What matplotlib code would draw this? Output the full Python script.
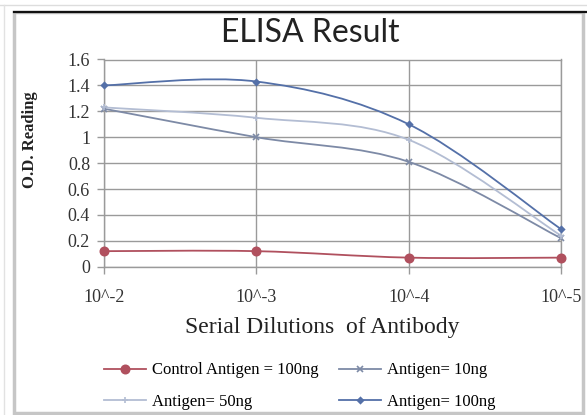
import matplotlib
matplotlib.use("Agg")
import matplotlib.pyplot as plt
from matplotlib.path import Path
from matplotlib.patches import PathPatch, Rectangle
from matplotlib.lines import Line2D

# Data
dilutions = ["10^-2", "10^-3", "10^-4", "10^-5"]
control_100ng = [0.12, 0.12, 0.07, 0.07]
antigen_10ng = [1.22, 1.00, 0.81, 0.22]
antigen_50ng = [1.23, 1.15, 0.98, 0.24]
antigen_100ng = [1.40, 1.43, 1.10, 0.29]
series_names = ["Control Antigen = 100ng", "Antigen= 10ng", "Antigen= 50ng", "Antigen= 100ng"]
y_ticks = [0, 0.2, 0.4, 0.6, 0.8, 1, 1.2, 1.4, 1.6]
y_tick_labels = ["0", "0.2", "0.4", "0.6", "0.8", "1", "1.2", "1.4", "1.6"]

colors = ["#b0505e", "#7d8aa6", "#b3bdd3", "#5470a8"]
markers = ["o", "x", "+", "D"]
msizes = [6, 4, 5, 3]


def smooth_path(xs, ys):
    # Excel-style smoothed line: cubic bezier through the points
    pts = list(zip(xs, ys))
    n = len(pts)
    verts = [pts[0]]
    codes = [Path.MOVETO]
    for i in range(n - 1):
        p0 = pts[max(i - 1, 0)]
        p1 = pts[i]
        p2 = pts[i + 1]
        p3 = pts[min(i + 2, n - 1)]
        c1 = (p1[0] + (p2[0] - p0[0]) / 6, p1[1] + (p2[1] - p0[1]) / 6)
        c2 = (p2[0] - (p3[0] - p1[0]) / 6, p2[1] - (p3[1] - p1[1]) / 6)
        verts += [c1, c2, p2]
        codes += [Path.CURVE4] * 3
    return Path(verts, codes)


fig = plt.figure(figsize=(5.87, 4.15), dpi=100)
fig.patch.set_facecolor("white")

# outer frame like the screenshot
fig.add_artist(Rectangle((14 / 587, 2 / 415), 569 / 587, 401 / 415, transform=fig.transFigure,
                         facecolor="white", edgecolor="#c6c6c6", linewidth=2.5, zorder=0))
fig.add_artist(Line2D([14 / 587, 1], [1 - 12 / 415, 1 - 12 / 415], transform=fig.transFigure,
                      color="#111111", linewidth=1.6))
fig.add_artist(Line2D([0, 1], [1 - 5 / 415, 1 - 5 / 415], transform=fig.transFigure,
                      color="#dddddd", linewidth=1))
fig.add_artist(Line2D([4 / 587, 4 / 587], [0, 1 - 5 / 415], transform=fig.transFigure,
                      color="#e2e2e2", linewidth=1))

ax = fig.add_axes([104 / 587, 1 - 266.7 / 415, (561 - 104) / 587, (266.7 - 59.5) / 415])
x = list(range(len(dilutions)))
all_series = [control_100ng, antigen_10ng, antigen_50ng, antigen_100ng]

handles = []
for vals, c, m, ms, name in zip(all_series, colors, markers, msizes, series_names):
    ax.add_patch(PathPatch(smooth_path(x, vals), fill=False, edgecolor=c, linewidth=1.3, zorder=3))
    ax.plot(x, vals, linestyle="none", marker=m, color=c, markersize=ms, markeredgewidth=1.2,
            zorder=4, clip_on=False)
    handles.append(Line2D([], [], color=c, marker=m, markersize=ms, linewidth=1.3,
                          markeredgewidth=1.2, label=name))

ax.set_xlim(0, 3)
ax.set_ylim(0, 1.6)
ax.set_xticks(x)
ax.set_xticklabels(dilutions, family="Liberation Serif", fontsize=13, color="#333333")
ax.set_yticks(y_ticks)
ax.set_yticklabels(y_tick_labels, family="Liberation Serif", fontsize=13, color="#333333")
ax.tick_params(axis="both", length=5, color="#9a9a9a", width=1)
ax.tick_params(axis="x", pad=11)
ax.tick_params(axis="y", pad=5)
ax.grid(True, color="#9a9a9a", linewidth=1)
ax.set_axisbelow(True)
for s in ax.spines.values():
    s.set_color("#9a9a9a")
    s.set_linewidth(1)

fig.text(310 / 587, 1 - 33 / 415, "ELISA Result", ha="center", va="center",
         family="Lato", fontsize=23, color="#222222")
fig.text(30 / 587, 1 - 140 / 415, "O.D. Reading", ha="center", va="center", rotation=90,
         family="Liberation Serif", fontweight="bold", fontsize=12, color="#222222")
fig.text(322 / 587, 1 - 328 / 415, "Serial Dilutions  of Antibody", ha="center", va="center",
         family="Liberation Serif", fontsize=17, color="#222222")

# legend fills row-wise in the reference
order = [0, 2, 1, 3]
fig.legend(handles=[handles[i] for i in order], loc="center", bbox_to_anchor=(300 / 587, 1 - 386 / 415),
           ncol=2, frameon=False, prop={"family": "Liberation Serif", "size": 12},
           handlelength=2.5, columnspacing=1.2, labelspacing=0.9, handletextpad=0.4)

fig.savefig("out.png", dpi=100)
